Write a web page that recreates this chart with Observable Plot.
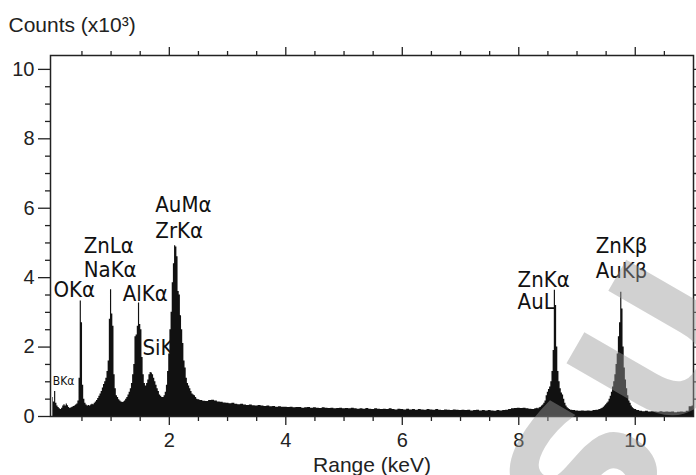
<!DOCTYPE html>
<html><head><meta charset="utf-8">
<script src="https://cdn.jsdelivr.net/npm/d3@7"></script>
<script src="https://cdn.jsdelivr.net/npm/@observablehq/plot@0.6"></script>
<style>body{margin:0;background:#fff}</style>
</head><body><div id="chart"></div>
<script>
// Spectrum: [energy keV, counts x10^3]
const spectrumLow = [
 [0.00,0.55],[0.02,0.42],[0.04,0.72],[0.06,0.38],[0.08,0.30],[0.10,0.26],[0.12,0.22],[0.14,0.20],[0.16,0.24],[0.18,0.30],
 [0.20,0.34],[0.22,0.30],[0.24,0.36],[0.26,0.31],[0.28,0.26],[0.30,0.23],[0.32,0.25],[0.34,0.27],[0.36,0.29],[0.38,0.30],
 [0.40,0.33],[0.42,0.36],[0.44,0.45],[0.46,1.10],[0.48,3.33],[0.50,2.70],[0.52,0.90],[0.54,0.50],[0.56,0.38],[0.58,0.33],
 [0.60,0.30],[0.62,0.32],[0.64,0.30],[0.66,0.33],[0.68,0.35],[0.70,0.34],[0.72,0.38],[0.74,0.42],[0.76,0.46],[0.78,0.52],
 [0.80,0.58],[0.82,0.65],[0.84,0.72],[0.86,0.82],[0.88,0.92],[0.90,1.00],[0.92,1.10],[0.94,1.30],[0.96,1.60],[0.98,2.80],
 [1.00,3.65],[1.02,2.95],[1.04,2.60],[1.06,1.20],[1.08,0.80],[1.10,0.60],[1.12,0.55],[1.14,0.48],[1.16,0.45],[1.18,0.42],
 [1.20,0.40],[1.22,0.42],[1.24,0.45],[1.26,0.50],[1.28,0.55],[1.30,0.62],[1.32,0.70],[1.34,0.80],[1.36,0.95],[1.38,1.20],
 [1.40,1.50],[1.42,2.30],[1.44,2.35],[1.46,2.60],[1.48,3.27],[1.50,2.65],[1.52,2.50],[1.54,1.70],[1.56,1.20],[1.58,0.95],
 [1.60,0.88],[1.62,0.95],[1.64,1.05],[1.66,1.20],[1.68,1.27],[1.70,1.25],[1.72,1.20],[1.74,1.10],[1.76,1.00],[1.78,0.90],
 [1.80,0.80],[1.82,0.72],[1.84,0.62],[1.86,0.58],[1.88,0.55],[1.90,0.55],[1.92,0.60],[1.94,0.70],[1.96,0.90],[1.98,1.30],
 [2.00,1.80],[2.02,2.50],[2.04,3.00],[2.06,3.85],[2.08,4.40],[2.10,4.92],[2.12,4.88],[2.14,4.60],[2.16,3.60],[2.18,3.50],
 [2.20,2.90],[2.22,2.50],[2.24,2.10],[2.26,1.60],[2.28,1.40],[2.30,1.10],[2.32,0.95],[2.34,0.88],[2.36,0.80],[2.38,0.72],
 [2.40,0.65],[2.42,0.62],[2.44,0.60],[2.46,0.55],[2.48,0.50],[2.50,0.48]
];
const spectrumBackground = [
 [2.55,0.46],[2.60,0.44],[2.65,0.43],[2.70,0.46],[2.75,0.47],[2.80,0.45],[2.85,0.42],[2.90,0.41],[2.95,0.39],[3.00,0.38],
 [3.05,0.37],[3.10,0.38],[3.15,0.35],[3.20,0.34],[3.25,0.35],[3.30,0.33],[3.35,0.32],[3.40,0.33],[3.45,0.31],[3.50,0.30],
 [3.55,0.32],[3.60,0.30],[3.65,0.29],[3.70,0.30],[3.75,0.28],[3.80,0.29],[3.85,0.27],[3.90,0.28],[3.95,0.27],[4.00,0.27],
 [4.05,0.26],[4.10,0.27],[4.15,0.25],[4.20,0.26],[4.25,0.26],[4.30,0.24],[4.35,0.25],[4.40,0.26],[4.45,0.24],[4.50,0.25],
 [4.55,0.24],[4.60,0.23],[4.65,0.25],[4.70,0.24],[4.75,0.23],[4.80,0.24],[4.85,0.22],[4.90,0.23],[4.95,0.24],[5.00,0.22],
 [5.05,0.23],[5.10,0.22],[5.15,0.24],[5.20,0.22],[5.25,0.21],[5.30,0.22],[5.35,0.21],[5.40,0.23],[5.45,0.21],[5.50,0.20],
 [5.55,0.22],[5.60,0.21],[5.65,0.20],[5.70,0.21],[5.75,0.20],[5.80,0.22],[5.85,0.20],[5.90,0.19],[5.95,0.21],[6.00,0.20],
 [6.05,0.19],[6.10,0.21],[6.15,0.19],[6.20,0.20],[6.25,0.18],[6.30,0.20],[6.35,0.19],[6.40,0.18],[6.45,0.20],[6.50,0.19],
 [6.55,0.18],[6.60,0.20],[6.65,0.18],[6.70,0.17],[6.75,0.19],[6.80,0.18],[6.85,0.17],[6.90,0.19],[6.95,0.18],[7.00,0.17],
 [7.05,0.18],[7.10,0.17],[7.15,0.18],[7.20,0.16],[7.25,0.17],[7.30,0.18],[7.35,0.16],[7.40,0.17],[7.45,0.16],[7.50,0.17],
 [7.55,0.16],[7.60,0.15],[7.65,0.17],[7.70,0.16],[7.75,0.17],[7.80,0.18],[7.85,0.20],[7.90,0.22],[7.95,0.23],[8.00,0.24],
 [8.05,0.23],[8.10,0.24],[8.15,0.22],[8.20,0.21],[8.25,0.20]
];
const spectrumZnKa = [
 [8.30,0.22],[8.32,0.24],[8.34,0.22],[8.36,0.25],[8.38,0.27],[8.40,0.30],[8.42,0.33],[8.44,0.38],[8.46,0.45],[8.48,0.60],
 [8.50,0.70],[8.52,0.78],[8.54,0.85],[8.56,1.00],[8.58,1.30],[8.60,1.90],[8.62,3.64],[8.64,3.20],[8.66,2.00],[8.68,1.30],
 [8.70,1.00],[8.72,0.80],[8.74,0.68],[8.76,0.62],[8.78,0.50],[8.80,0.38],[8.82,0.30],[8.84,0.25],[8.86,0.22],[8.88,0.20],
 [8.90,0.18],[8.95,0.17],[9.00,0.16],[9.05,0.15],[9.10,0.16],[9.15,0.15],[9.20,0.16],[9.25,0.15],[9.30,0.17],[9.35,0.18],
 [9.40,0.20]
];
const spectrumZnKb = [
 [9.42,0.22],[9.44,0.24],[9.46,0.27],[9.48,0.30],[9.50,0.34],[9.52,0.38],[9.54,0.42],[9.56,0.50],[9.58,0.58],[9.60,0.70],
 [9.62,0.85],[9.64,1.00],[9.66,1.20],[9.68,1.50],[9.70,1.80],[9.72,2.30],[9.74,2.70],[9.76,3.58],[9.78,3.10],[9.80,2.00],
 [9.82,1.40],[9.84,1.05],[9.86,0.80],[9.88,0.60],[9.90,0.45],[9.92,0.38],[9.94,0.30],[9.96,0.25],[9.98,0.22],[10.00,0.20],
 [10.05,0.17],[10.10,0.15],[10.15,0.14],[10.20,0.15],[10.25,0.13],[10.30,0.14],[10.35,0.13],[10.40,0.12],[10.45,0.14],[10.50,0.12],
 [10.55,0.13],[10.60,0.12],[10.65,0.13],[10.70,0.11],[10.75,0.12],[10.80,0.13],[10.85,0.12],[10.90,0.15],[10.95,0.28],[11.00,0.30]
];

const peakLabels = ["OKα","ZnLα","NaKα","AlKα","SiK","AuMα","ZrKα","ZnKα","AuL","ZnKβ","AuKβ"];
const peakLabelEnergy = [0.01, 0.53, 0.53, 1.20, 1.54, 1.76, 1.76, 7.98, 7.98, 9.32, 9.32];
const peakLabelCounts = [3.43, 4.70, 4.03, 3.34, 1.76, 5.88, 5.13, 3.72, 3.11, 4.70, 3.98];
const smallLabels = ["BKα"];
const smallLabelEnergy = [0.0];
const smallLabelCounts = [0.92];

const xMajorTicks = [2, 4, 6, 8, 10];
const xMinorTicks = [0.5,1,1.5,2.5,3,3.5,4.5,5,5.5,6.5,7,7.5,8.5,9,9.5,10.5];
const yMajorTicks = [0, 2, 4, 6, 8, 10];
const yMinorTicks = [0.5,1,1.5,2.5,3,3.5,4.5,5,5.5,6.5,7,7.5,8.5,9,9.5];
const yAllTicks = [0.5,1,1.5,2,2.5,3,3.5,4,4.5,5,5.5,6,6.5,7,7.5,8,8.5,9,9.5,10];
const yTitle = "Counts (x10³)";
const xTitle = "Range (keV)";
const watermark = "SU";

const spectrum = [...spectrumLow, ...spectrumBackground, ...spectrumZnKa, ...spectrumZnKb]
  .map(([energy, counts]) => ({energy, counts}));
const labels = peakLabels.map((t, i) => ({t, x: peakLabelEnergy[i], y: peakLabelCounts[i]}));
const small = smallLabels.map((t, i) => ({t, x: smallLabelEnergy[i], y: smallLabelCounts[i]}));
const blank = () => "";
const labelFont = "'DejaVu Sans Condensed', 'DejaVu Sans', sans-serif";

const chart = Plot.plot({
  width: 696, height: 475,
  marginLeft: 50, marginRight: 3, marginTop: 55, marginBottom: 59,
  style: {fontFamily: "'Liberation Sans', Arial, sans-serif", background: "#fff", color: "#222", overflow: "visible"},
  x: {domain: [-0.04, 11.0]},
  y: {domain: [0, 10.4]},
  marks: [
    Plot.areaY(spectrum, {x: "energy", y: "counts", curve: "step", fill: "#111"}),
    Plot.frame({stroke: "#222", strokeWidth: 1.5}),
    Plot.axisY({ticks: yMajorTicks, tickSize: 12, tickPadding: 4, fontSize: 20, label: null, strokeWidth: 1.3}),
    Plot.axisY({ticks: yMinorTicks, tickSize: 5, tickFormat: blank, label: null, strokeWidth: 1.3}),
    Plot.axisY({anchor: "right", ticks: yAllTicks, tickSize: 5, tickFormat: blank, label: null, strokeWidth: 1.3}),
    Plot.axisX({ticks: xMajorTicks, tickSize: 9, tickPadding: 7, fontSize: 20, label: null, strokeWidth: 1.3}),
    Plot.axisX({ticks: xMinorTicks, tickSize: 5, tickFormat: blank, label: null, strokeWidth: 1.3}),
    Plot.axisX({anchor: "top", ticks: xMajorTicks, tickSize: 9, tickFormat: blank, label: null, strokeWidth: 1.3}),
    Plot.axisX({anchor: "top", ticks: xMinorTicks, tickSize: 5, tickFormat: blank, label: null, strokeWidth: 1.3}),
    Plot.text(labels, {x: "x", y: "y", text: "t", textAnchor: "start", lineAnchor: "bottom", fontSize: 22, fontFamily: labelFont, fill: "#111"}),
    Plot.text(small, {x: "x", y: "y", text: "t", textAnchor: "start", lineAnchor: "bottom", fontSize: 12, fontFamily: labelFont, fill: "#111"}),
    Plot.text([yTitle], {text: d => d, frameAnchor: "top-left", textAnchor: "start", lineAnchor: "bottom", dx: -42, dy: -24, fontSize: 21, fill: "#222"}),
    Plot.text([xTitle], {text: d => d, frameAnchor: "bottom", textAnchor: "middle", lineAnchor: "bottom", dy: 55, fontSize: 21, fill: "#222"}),
    Plot.text([watermark], {text: d => d, x: [9.9], y: [0.2], rotate: -60, fontSize: 190, fontWeight: "bold", fill: "#9a9a9a", fillOpacity: 0.45, fontFamily: "'DejaVu Sans', sans-serif"})
  ]
});
document.getElementById("chart").appendChild(chart);
</script>
</body></html>
